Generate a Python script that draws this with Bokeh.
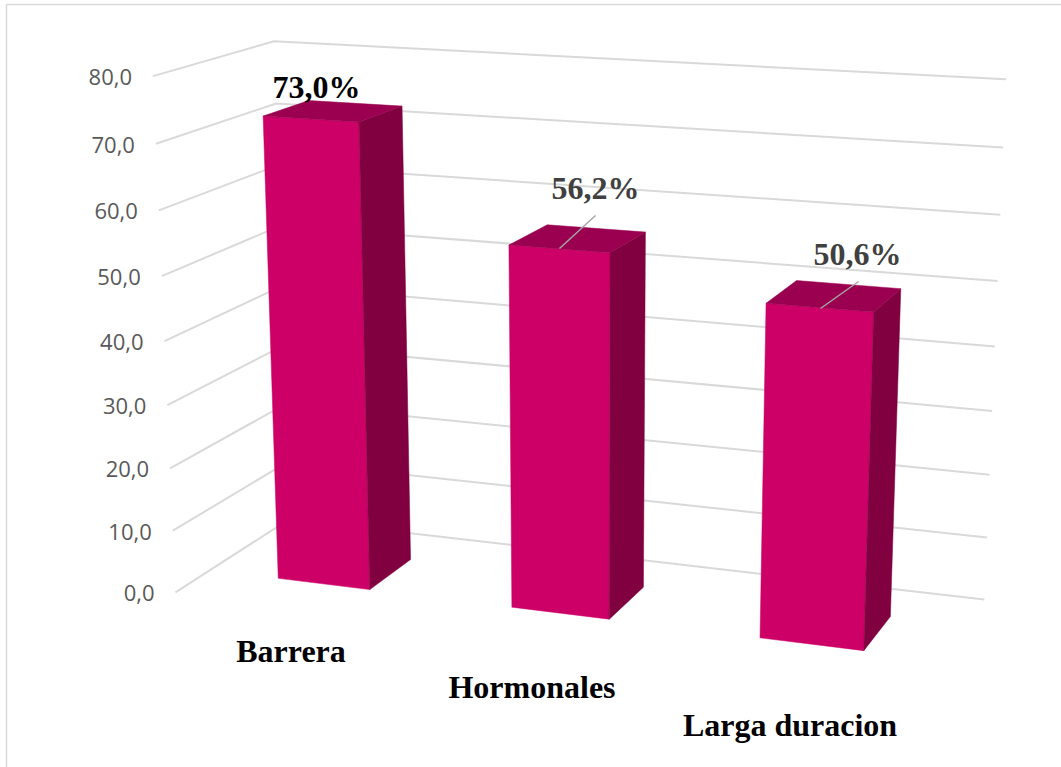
import numpy as np
from bokeh.plotting import figure
from bokeh.embed import file_html
from bokeh.resources import INLINE
from bokeh.core.properties import value

categories = ["Barrera", "Hormonales", "Larga duracion"]
percent = [73.0, 56.2, 50.6]
tick_values = [0, 10, 20, 30, 40, 50, 60, 70, 80]
tick_labels = ["0,0", "10,0", "20,0", "30,0", "40,0", "50,0", "60,0", "70,0", "80,0"]
data_labels = ["73,0%", "56,2%", "50,6%"]

# calibration of the 3D view: (x in categories, value, depth) -> page pixel
calib = []
for v, px, py in zip(tick_values, [175,172,170,167,164,161,158,155,153], [592,531,468,405,341,276,210,143,75]):
    calib.append((0, v, 0, px, py))
for v, px, py in zip(tick_values, [984,986,989,992,995,997,1000,1002,1005], [600,538,474,411,346,281,214,147,78]):
    calib.append((3, v, 1, px, py))
calib += [(0,80,1,273,41),(0,70,1,277,103),(0,0,1,288,517),(3,0,0,923,685)]
A = []
for X,Y,Z,u,w in calib:
    A.append([X,Y,Z,1,0,0,0,0,-u*X,-u*Y,-u*Z,-u])
    A.append([0,0,0,0,X,Y,Z,1,-w*X,-w*Y,-w*Z,-w])
P = np.linalg.svd(np.array(A, float))[2][-1].reshape(3,4)
def proj(X,Y,Z):
    q = P @ np.array([X,Y,Z,1.0])
    return float(q[0]/q[2]), float(q[1]/q[2])

p = figure(width=1061, height=767, x_range=(0,1061), y_range=(767,0), output_backend="svg",
           toolbar_location=None, min_border=0)
p.axis.visible=False; p.grid.visible=False; p.outline_line_color=None

p.line([6,6],[4,767],line_color="#d9d9d9",line_width=1.5)
p.line([6,1061],[4,4],line_color="#d9d9d9",line_width=1.5)

for v in tick_values:
    pts=[proj(0,v,0),proj(0,v,1),proj(3,v,1)]
    p.line([a[0] for a in pts],[a[1] for a in pts],line_color="#d9d9d9",line_width=2)
for v,l in zip(tick_values,tick_labels):
    x,y=proj(0,v,0)
    p.text([x-21],[y+1],text=[l],text_align="right",text_baseline="middle",text_color="#595959",
           text_font=value("Open Sans"),text_font_size="22px")

bar_w=0.40; centers=[0.503,1.505,2.505]; zf=0.29; zb=0.685
xs=[];ys=[];cs=[]
for c,v in zip(centers,percent):
    x0=c-bar_w/2; x1=c+bar_w/2
    faces=[([(x0,0,zf),(x1,0,zf),(x1,v,zf),(x0,v,zf)],"#CC0066"),
           ([(x1,0,zf),(x1,0,zb),(x1,v,zb),(x1,v,zf)],"#800040"),
           ([(x0,v,zf),(x1,v,zf),(x1,v,zb),(x0,v,zb)],"#9B0050")]
    for f,col in faces:
        pts=[proj(*a) for a in f]
        xs.append([a[0] for a in pts]);ys.append([a[1] for a in pts]);cs.append(col)
p.patches(xs,ys,fill_color=cs,line_color=cs,line_width=0.5)

# leader lines of the two moved data labels
p.line([559,595],[248,215],line_color="#a6a6a6",line_width=1.5)
p.line([820,858],[308,281],line_color="#a6a6a6",line_width=1.5)

p.text([316,595,857],[86,187,253],text=data_labels,text_align="center",text_baseline="alphabetic",
       text_color=["#000000","#404040","#404040"],text_font=value("Liberation Serif"),
       text_font_style="bold",text_font_size="32px")
p.text([290.5,531.5,789.5],[650,686,724],text=categories,text_align="center",text_baseline="alphabetic",
       text_color="#000000",text_font=value("Liberation Serif"),text_font_style="bold",text_font_size="32px")

open("out.html","w").write(file_html(p,INLINE))
